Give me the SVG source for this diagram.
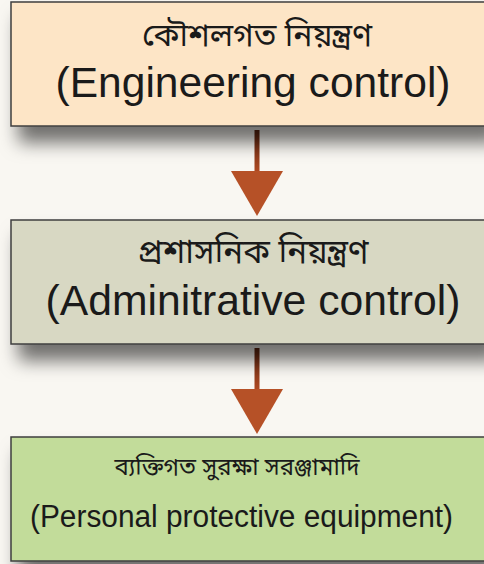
<svg xmlns="http://www.w3.org/2000/svg" width="484" height="564" viewBox="0 0 484 564">
<style>
.box{stroke:#3f3f3f;stroke-width:1.5}
.bn{font-family:"Noto Sans Bengali","Noto Serif Bengali","Lohit Bengali","Noto Sans",sans-serif;fill:#1a1a1a;text-anchor:middle}
.en{font-family:"Liberation Sans",Arial,sans-serif;fill:#1a1a1a;text-anchor:middle}
.head{fill:#b65127}
</style>
<defs>
<filter id="sh" x="-10%" y="-10%" width="130%" height="160%">
<feDropShadow dx="8" dy="16" stdDeviation="9" flood-color="#000" flood-opacity="0.55"/>
</filter>
<linearGradient id="sg" x1="0" y1="0" x2="0" y2="1" gradientUnits="objectBoundingBox">
<stop offset="0" stop-color="#5a2410"/>
<stop offset="1" stop-color="#b04a22"/>
</linearGradient>
</defs>
<rect x="0" y="0" width="484" height="564" fill="#f9f7f2"/>
<g id="connectors">
<rect x="254.5" y="130" width="5" height="42" fill="url(#sg)"/>
<polygon class="head" points="231,171 283,171 257,216"/>
<rect x="254.5" y="348" width="5" height="42" fill="url(#sg)"/>
<polygon class="head" points="231,389 283,389 257,434"/>
</g>
<g id="engineering">
<rect class="box" x="11" y="2" width="480" height="124" fill="#fde5c6" filter="url(#sh)"/>
<text class="bn" x="257" y="46" font-size="32">কৌশলগত নিয়ন্ত্রণ</text>
<text class="en" x="253" y="97" font-size="42" textLength="395" lengthAdjust="spacingAndGlyphs">(Engineering control)</text>
</g>
<g id="administrative">
<rect class="box" x="11" y="220" width="480" height="124" fill="#d8d8c3" filter="url(#sh)"/>
<text class="bn" x="253" y="263" font-size="33">প্রশাসনিক নিয়ন্ত্রণ</text>
<text class="en" x="253" y="315" font-size="42" textLength="415" lengthAdjust="spacingAndGlyphs">(Adminitrative control)</text>
</g>
<g id="ppe">
<rect class="box" x="11" y="437" width="480" height="124" fill="#c2dc9a" filter="url(#sh)"/>
<text class="bn" x="237" y="475" font-size="24">ব্যক্তিগত সুরক্ষা সরঞ্জামাদি</text>
<text class="en" x="241.5" y="527" font-size="31" textLength="423" lengthAdjust="spacingAndGlyphs">(Personal protective equipment)</text>
</g>
</svg>
